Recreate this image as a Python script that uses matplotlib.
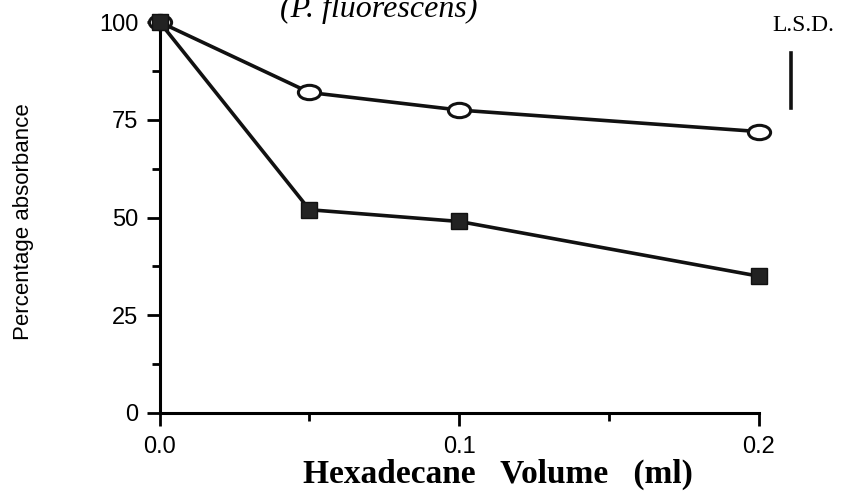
import matplotlib
matplotlib.use('Agg')
import matplotlib.pyplot as plt
from matplotlib.path import Path
from matplotlib.markers import MarkerStyle
from matplotlib.transforms import Affine2D

# данные
volume = [0.0, 0.05, 0.1, 0.2]
open_circles = [100, 82, 77.5, 72]
filled_squares = [100, 52, 49, 35]
lsd_x = 0.2107
lsd_low = 78
lsd_high = 92

xticks = [0.0, 0.1, 0.2]
xtick_labels = ['0.0', '0.1', '0.2']
yticks = [0, 25, 50, 75, 100]

fig = plt.figure(figsize=(8.45, 5.03), dpi=100)
ax = fig.add_axes([0.189, 0.179, 0.709, 0.777])

# эллипс для открытых маркеров
ellipse = Path.unit_circle().transformed(Affine2D().scale(1.55, 1.0))
ell_marker = MarkerStyle(ellipse)

ax.plot(volume, open_circles, color='#111111', lw=2.6, marker=ell_marker,
        markersize=16, markerfacecolor='white', markeredgecolor='#111111',
        markeredgewidth=2.2, clip_on=False, zorder=3)
ax.plot(volume, filled_squares, color='#111111', lw=2.6, marker='s',
        markersize=12, markerfacecolor='#222222', markeredgecolor='#111111',
        clip_on=False, zorder=4)

# L.S.D.
ax.plot([lsd_x, lsd_x], [lsd_low, lsd_high], color='#111111', lw=2.6, clip_on=False)
ax.text(0.2149, 97.8, 'L.S.D.', ha='center', va='baseline', fontsize=17,
        family='Liberation Serif', clip_on=False)

ax.set_xlim(0, 0.2)
ax.set_ylim(0, 100)
ax.spines['top'].set_visible(False)
ax.spines['right'].set_visible(False)
ax.spines['left'].set_linewidth(2.2)
ax.spines['bottom'].set_linewidth(2.2)

ax.set_xticks(xticks)
ax.set_xticklabels(xtick_labels, family='Liberation Sans', fontsize=17)
ax.set_xticks([0.05, 0.15], minor=True)
ax.set_yticks(yticks)
ax.set_yticklabels([str(v) for v in yticks], family='Liberation Sans', fontsize=17)
ax.set_yticks([12.5, 37.5, 62.5, 87.5], minor=True)
ax.tick_params(axis='both', which='major', direction='out', length=9.5, width=2)
ax.tick_params(axis='x', which='major', pad=7)
ax.tick_params(axis='y', which='major', pad=6)
ax.tick_params(axis='both', which='minor', direction='out', length=6, width=2)

ax.set_xlabel('Hexadecane   Volume   (ml)', fontsize=24, fontweight='bold',
              family='Liberation Serif', va='baseline')
ax.xaxis.set_label_coords(0.565, -0.179)
ax.set_ylabel('Percentage absorbance', fontsize=16, family='Liberation Sans')
ax.yaxis.set_label_coords(-0.21, 0.49)

fig.text(0.448, 1 - 17 / 503, '(P. fluorescens)', ha='center', va='baseline',
         fontsize=23, style='italic', family='Liberation Serif')

plt.savefig('out.png', dpi=100)
plt.close()
